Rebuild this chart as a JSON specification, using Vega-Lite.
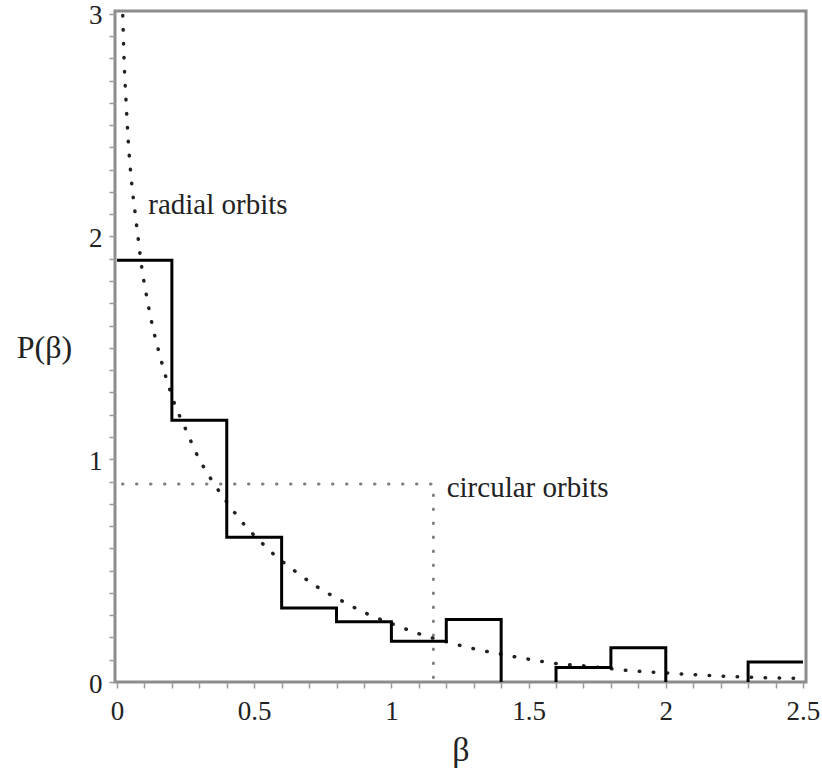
{
  "$schema": "https://vega.github.io/schema/vega-lite/v6.json",
  "autosize": "none",
  "padding": {"left": 115, "top": 11, "right": 16, "bottom": 96},
  "width": 691,
  "height": 671,
  "config": {
    "view": {"stroke": "#8c8c8c", "strokeWidth": 3},
    "font": "Liberation Serif",
    "background": "white"
  },
  "datasets": {
    "hist": [
      {"x": 0, "y": 1.893, "seg": "a", "ord": 1},
      {"x": 0.2, "y": 1.175, "seg": "a", "ord": 2},
      {"x": 0.4, "y": 0.65, "seg": "a", "ord": 3},
      {"x": 0.6, "y": 0.332, "seg": "a", "ord": 4},
      {"x": 0.8, "y": 0.271, "seg": "a", "ord": 5},
      {"x": 1.0, "y": 0.183, "seg": "a", "ord": 6},
      {"x": 1.2, "y": 0.28, "seg": "a", "ord": 7},
      {"x": 1.4, "y": 0, "seg": "a", "ord": 8},
      {"x": 1.6, "y": 0, "seg": "b", "ord": 1},
      {"x": 1.6, "y": 0.065, "seg": "b", "ord": 2},
      {"x": 1.8, "y": 0.154, "seg": "b", "ord": 3},
      {"x": 2.0, "y": 0, "seg": "b", "ord": 4},
      {"x": 2.3, "y": 0, "seg": "c", "ord": 1},
      {"x": 2.3, "y": 0.09, "seg": "c", "ord": 2},
      {"x": 2.5, "y": 0.09, "seg": "c", "ord": 3}
    ],
    "radial": [
      {"x": 0.021, "y": 2.992},
      {"x": 0.0255, "y": 2.804},
      {"x": 0.0328, "y": 2.611},
      {"x": 0.0412, "y": 2.424},
      {"x": 0.0536, "y": 2.238},
      {"x": 0.0656, "y": 2.11},
      {"x": 0.0776, "y": 1.987},
      {"x": 0.09, "y": 1.863},
      {"x": 0.1068, "y": 1.739},
      {"x": 0.1265, "y": 1.614},
      {"x": 0.1505, "y": 1.492},
      {"x": 0.1775, "y": 1.372},
      {"x": 0.2088, "y": 1.252},
      {"x": 0.2489, "y": 1.139},
      {"x": 0.2904, "y": 1.023},
      {"x": 0.3415, "y": 0.913},
      {"x": 0.4, "y": 0.808},
      {"x": 0.4628, "y": 0.708},
      {"x": 0.533, "y": 0.618},
      {"x": 0.5696, "y": 0.575},
      {"x": 0.651, "y": 0.4955},
      {"x": 0.7336, "y": 0.424},
      {"x": 0.8225, "y": 0.362},
      {"x": 0.9137, "y": 0.305},
      {"x": 1.0095, "y": 0.258},
      {"x": 1.104, "y": 0.215},
      {"x": 1.2015, "y": 0.18},
      {"x": 1.2985, "y": 0.15},
      {"x": 1.402, "y": 0.124},
      {"x": 1.501, "y": 0.102},
      {"x": 1.602, "y": 0.0826},
      {"x": 1.7055, "y": 0.072},
      {"x": 1.857, "y": 0.0525},
      {"x": 2.009, "y": 0.04},
      {"x": 2.164, "y": 0.029},
      {"x": 2.317, "y": 0.021},
      {"x": 2.47, "y": 0.0166}
    ],
    "circular": [
      {"x": 0.02, "y": 0.889, "ord": 1},
      {"x": 1.153, "y": 0.889, "ord": 2},
      {"x": 1.153, "y": 0, "ord": 3}
    ],
    "notes": [
      {"x": 0.114, "y": 2.102, "label": "radial orbits"},
      {"x": 1.2015, "y": 0.83, "label": "circular orbits"}
    ]
  },
  "encoding": {
    "x": {
      "field": "x",
      "type": "quantitative",
      "scale": {"domain": [-0.0073, 2.511], "nice": false, "zero": false},
      "axis": {
        "values": [0, 0.1, 0.2, 0.3, 0.4, 0.5, 0.6, 0.7, 0.8, 0.9, 1, 1.1, 1.2, 1.3, 1.4, 1.5, 1.6, 1.7, 1.8, 1.9, 2, 2.1, 2.2, 2.3, 2.4, 2.5],
        "labelExpr": "abs(datum.value*2 - round(datum.value*2)) < 0.001 ? format(datum.value, '.1~f') : ''",
        "domain": false,
        "grid": false,
        "tickSize": 6,
        "tickColor": "#9a9a9a",
        "tickWidth": 1.5,
        "labelFont": "Liberation Serif",
        "labelFontSize": 27,
        "labelColor": "#222222",
        "labelPadding": 10,
        "labelFlush": false,
        "labelOverlap": false,
        "labelBound": false,
        "title": "β",
        "titleFont": "Liberation Serif",
        "titleFontSize": 34,
        "titleFontWeight": "normal",
        "titleColor": "#222222",
        "titleBaseline": "alphabetic",
        "titleY": 78
      }
    },
    "y": {
      "field": "y",
      "type": "quantitative",
      "scale": {"domain": [0, 3.012], "nice": false, "zero": false},
      "axis": {
        "values": [0, 0.1, 0.2, 0.3, 0.4, 0.5, 0.6, 0.7, 0.8, 0.9, 1, 1.1, 1.2, 1.3, 1.4, 1.5, 1.6, 1.7, 1.8, 1.9, 2, 2.1, 2.2, 2.3, 2.4, 2.5, 2.6, 2.7, 2.8, 2.9, 3],
        "labelExpr": "abs(datum.value - round(datum.value)) < 0.001 ? format(datum.value, '.0f') : ''",
        "domain": false,
        "grid": false,
        "tickSize": 6,
        "tickColor": "#9a9a9a",
        "tickWidth": 1.5,
        "labelFont": "Liberation Serif",
        "labelFontSize": 27,
        "labelColor": "#222222",
        "labelPadding": 7,
        "labelOffset": 2,
        "labelOverlap": false,
        "labelBound": false,
        "labelFlush": false,
        "title": "P(β)",
        "titleFont": "Liberation Serif",
        "titleFontSize": 32,
        "titleFontWeight": "normal",
        "titleColor": "#222222",
        "titleAngle": 0,
        "titleAlign": "center",
        "titleBaseline": "alphabetic",
        "titleX": -71,
        "titleY": 346
      }
    }
  },
  "layer": [
    {
      "data": {"name": "circular"},
      "mark": {"type": "line", "color": "#808080", "strokeWidth": 3, "strokeDash": [0.5, 13.5], "strokeCap": "round"},
      "encoding": {"order": {"field": "ord", "type": "quantitative"}}
    },
    {
      "data": {"name": "radial"},
      "mark": {"type": "line", "color": "#222222", "strokeWidth": 3.5, "strokeDash": [0.5, 13.5], "strokeCap": "round", "interpolate": "monotone"},
      "encoding": {}
    },
    {
      "data": {"name": "hist"},
      "mark": {"type": "line", "color": "#000000", "strokeWidth": 3, "interpolate": "step-after", "strokeJoin": "miter"},
      "encoding": {
        "detail": {"field": "seg", "type": "nominal"},
        "order": {"field": "ord", "type": "quantitative"}
      }
    },
    {
      "data": {"name": "notes"},
      "mark": {"type": "text", "align": "left", "baseline": "alphabetic", "font": "Liberation Serif", "fontSize": 29, "color": "#222222"},
      "encoding": {"text": {"field": "label", "type": "nominal"}}
    }
  ]
}
